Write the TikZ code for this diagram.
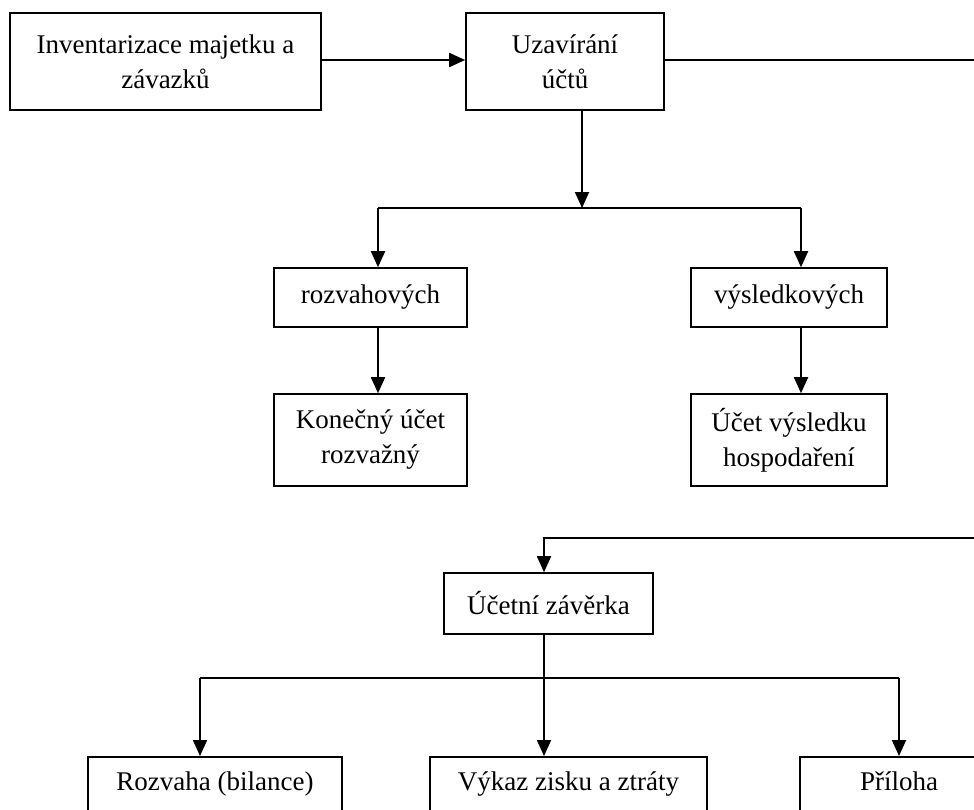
\documentclass[tikz,border=0pt]{standalone}
\usepackage{fontspec}
\setmainfont{Liberation Serif}
\usetikzlibrary{arrows.meta}

\tikzset{
  box/.style={draw, line width=0.8pt, inner sep=0pt, align=center,
    font=\fontsize{13.5}{17.5}\selectfont},
  lowbox/.style={box, anchor=north, minimum height=31pt,
    text height=10pt, text depth=7pt},
  arr/.style={line width=0.9pt, -{Triangle[length=8pt,width=7pt]}},
  ln/.style={line width=0.9pt}
}

\begin{document}
\begin{tikzpicture}[x=0.5pt, y=-0.5pt]
\def\xr{974};
\def\yb{809};

\def\ya{61.5};
\def\yj{208};
\def\yk{538};
\def\yl{678};
\def\ym{756};

\clip (0,0) rectangle (\xr,\yb);

\node[box, minimum width=155.5pt, minimum height=48.5pt] (inv) at (165.5,\ya) {Inventarizace majetku a\\závazků};
\node[box, minimum width=99pt, minimum height=48.5pt] (uza) at (565,\ya) {Uzavírání\\účtů};

\node[box, minimum width=96.5pt, minimum height=29.5pt] (roz) at (370.5,297.5) {rozvahových};
\node[box, minimum width=98pt, minimum height=29.5pt] (vys) at (789,297.5) {výsledkových};
\node[box, minimum width=96.5pt, minimum height=46pt] (kon) at (370.5,440) {Konečný účet\\rozvažný};
\node[box, minimum width=98pt, minimum height=46pt] (uvh) at (789,440) {Účet výsledku\\hospodaření};

\node[box, minimum width=104.5pt, minimum height=30.5pt] (zav) at (548.5,603.5) {Účetní závěrka};

\node[lowbox, minimum width=127pt] (rozv) at (215,\ym) {Rozvaha (bilance)};
\node[lowbox, minimum width=138.5pt] (vzz) at (568.5,\ym) {Výkaz zisku a ztráty};
\node[lowbox, minimum width=99pt] (pril) at (899,\ym) {Příloha};

% junctions
\coordinate (j) at (582,\yj);
\coordinate (jl) at (378,\yj);
\coordinate (jr) at (801,\yj);
\coordinate (e1) at (\xr,60);
\coordinate (e2) at (\xr,\yk);
\coordinate (k) at (544,\yk);
\coordinate (l) at (544,\yl);
\coordinate (ll) at (200,\yl);
\coordinate (lr) at (899,\yl);

\draw[arr] (inv.east |- e1) -- (uza.west |- e1);
\draw[ln] (uza.east |- e1) -- (e1);

\draw[arr] (uza.south -| j) -- (j);
\draw[ln] (jl) -- (jr);
\draw[arr] (jl) -- (roz.north -| jl);
\draw[arr] (jr) -- (vys.north -| jr);
\draw[arr] (roz.south -| jl) -- (kon.north -| jl);
\draw[arr] (vys.south -| jr) -- (uvh.north -| jr);

\draw[arr] (e2) -- (k) -- (zav.north -| k);

\draw[arr] (zav.south -| l) -- (vzz.north -| l);
\draw[ln] (ll) -- (lr);
\draw[arr] (ll) -- (rozv.north -| ll);
\draw[arr] (lr) -- (pril.north -| lr);

\end{tikzpicture}
\end{document}
